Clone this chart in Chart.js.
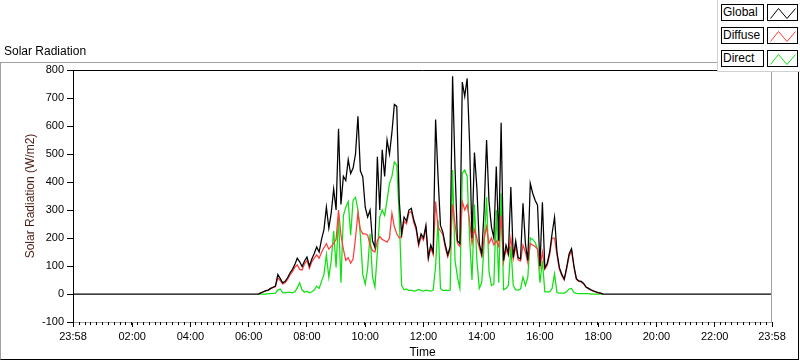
<!DOCTYPE html>
<html>
<head>
<meta charset="utf-8">
<script src="https://cdn.jsdelivr.net/npm/chart.js@4.4.0/dist/chart.umd.min.js"></script>
<style>
  html, body { margin: 0; padding: 0; background: #fff; }
  #wrap { position: relative; width: 800px; height: 361px; overflow: hidden; font-family: "Liberation Sans", Arial, sans-serif; }
  #frame { position: absolute; left: 0; top: 62px; width: 799px; height: 298px; border-top: 1px solid #a0a0a0; border-left: 1px solid #a0a0a0; border-bottom: 1px solid #000; border-right: 1px solid #000; box-sizing: border-box; }
  #chart { position: absolute; left: 0; top: 0; }
  #title { position: absolute; left: 4px; top: 44px; font-size: 12px; line-height: 14px; color: #000; }
  #legend { position: absolute; left: 717px; top: 0; width: 83px; height: 72px; background: #fff; border-left: 1px solid #d0d0d0; border-bottom: 1px solid #d0d0d0; box-sizing: border-box; }
  .item { position: absolute; left: 3px; height: 17px; }
  .name { position: absolute; left: 0; top: 0; width: 43px; height: 17px; border: 1px solid #000; box-sizing: border-box; font-size: 12px; line-height: 14px; padding-left: 1px; background: #fff; }
  .swatch { position: absolute; left: 46px; top: 0; width: 31px; height: 17px; border: 1px solid #000; box-sizing: border-box; background: #fff; }
  .swatch svg { position: absolute; left: 0; top: 0; }
</style>
</head>
<body>
<div id="wrap">
  <div id="frame"></div>
  <canvas id="chart" width="800" height="361"></canvas>
  <div id="title">Solar Radiation</div>
  <div id="legend"></div>
</div>
<script>
"use strict";

// minutes after midnight, axis runs 23:58 -> 23:58
const X_MIN = -2;
const X_MAX = 1438;
const MAJOR_TICKS = [-2, 120, 240, 360, 480, 600, 720, 840, 960, 1080, 1200, 1320, 1438];
const MINOR_STEP = 12;
const Y_TICKS = [-100, 0, 100, 200, 300, 400, 500, 600, 700, 800];

const seriesNames = ["Global", "Diffuse", "Direct"];
const seriesColors = ["#000000", "#ff3c3c", "#10e010"];

// daytime samples every 5 minutes from 06:20 to 18:10 (W/m2)
const startMinute = 380;
const stepMinutes = 5;

const globalDay = [
    0, 4, 8, 12, 14, 20, 24, 28, 70, 55, 40, 45, 58, 75, 88, 105, 128, 115, 98, 118,
    132, 100, 125, 145, 168, 150, 195, 230, 310, 235, 290, 375, 300, 590, 320, 420, 405, 480, 430, 450,
    500, 635, 440, 418, 310, 275, 300, 190, 166, 490, 300, 515, 420, 550, 500, 577, 677, 670, 335, 215,
    275, 260, 300, 306, 265, 238, 180, 215, 200, 245, 130, 175, 150, 623, 420, 245, 220, 175, 140, 170,
    778, 450, 190, 180, 757, 706, 770, 540, 200, 505, 380, 180, 143, 300, 550, 330, 240, 200, 455, 190,
    612, 120, 175, 145, 382, 130, 190, 130, 125, 324, 180, 120, 395, 360, 335, 317, 100, 328, 94, 110,
    150, 216, 274, 150, 94, 70, 53, 95, 143, 162, 100, 55, 47, 45, 38, 25, 20, 15, 11, 8,
    5, 3, 0
];

const diffuseDay = [
    0, 4, 7, 11, 13, 19, 23, 26, 58, 48, 36, 40, 52, 68, 80, 95, 104, 88, 86, 108,
    120, 92, 115, 128, 140, 128, 148, 165, 180, 160, 170, 180, 195, 300, 210, 160, 120, 130, 110, 125,
    200, 290, 230, 215, 215, 210, 175, 155, 150, 190, 205, 195, 190, 185, 200, 288, 240, 215, 200, 205,
    260, 250, 290, 295, 255, 228, 172, 205, 192, 235, 125, 165, 140, 330, 240, 225, 212, 165, 132, 160,
    320, 250, 180, 170, 330, 300, 320, 260, 180, 230, 200, 165, 135, 200, 240, 180, 200, 175, 190, 170,
    280, 115, 160, 138, 200, 125, 170, 122, 118, 175, 150, 112, 180, 175, 170, 160, 95, 150, 88, 103,
    140, 200, 200, 140, 88, 66, 50, 90, 135, 155, 95, 52, 45, 43, 36, 24, 19, 14, 10, 7,
    4, 2, 0
];

const directDay = [
    0, 0, 0, 0, 1, 1, 2, 3, 14, 18, 5, 4, 6, 6, 4, 8, 22, 40, 14, 6,
    10, 4, 8, 14, 28, 20, 45, 70, 140, 60, 120, 225, 95, 275, 40, 280, 310, 330, 210, 335,
    345, 300, 210, 70, 35, 90, 215, 60, 25, 150, 275, 300, 280, 335, 395, 420, 472, 460, 280, 30,
    15, 18, 12, 14, 10, 12, 16, 12, 10, 14, 12, 10, 14, 100, 263, 20, 12, 14, 12, 14,
    443, 120, 60, 20, 432, 443, 420, 200, 50, 320, 120, 20, 40, 180, 346, 80, 30, 35, 300, 40,
    360, 15, 20, 30, 170, 30, 15, 14, 18, 60, 30, 60, 200, 195, 185, 160, 40, 119, 8, 8,
    8, 20, 72, 5, 3, 3, 3, 8, 18, 20, 5, 2, 1, 1, 1, 1, 1, 0, 0, 0,
    0, 0, 0
];

const dayTimes = globalDay.map((v, i) => startMinute + i * stepMinutes);
const toPoints = values => values.map((v, i) => ({x: dayTimes[i], y: v}));

const globalPoints = [{x: X_MIN, y: 0}, ...toPoints(globalDay), {x: X_MAX, y: 0}];

function formatTime (m) {
    const t = ((m % 1440) + 1440) % 1440;
    const h = Math.floor(t / 60), mm = t % 60;
    return String(h).padStart(2, "0") + ":" + String(mm).padStart(2, "0");
}

const plotFrame = {
    id: "plotFrame",
    afterDraw (chart) {
        const {ctx, chartArea: a, scales: {x}} = chart;
        ctx.save();
        ctx.lineWidth = 1;
        ctx.strokeStyle = "#000";
        ctx.beginPath();
        ctx.moveTo(a.left, a.top + 0.5);
        ctx.lineTo(a.right, a.top + 0.5);
        ctx.stroke();
        ctx.strokeStyle = "#a0a0a0";
        ctx.beginPath();
        ctx.moveTo(a.right - 0.5, a.top);
        ctx.lineTo(a.right - 0.5, a.bottom);
        ctx.stroke();
        // short minor ticks
        ctx.strokeStyle = "#000";
        ctx.beginPath();
        for (let m = X_MIN; m <= X_MAX; m += MINOR_STEP) {
            const px = Math.round(x.getPixelForValue(m)) + 0.5;
            ctx.moveTo(px, a.bottom);
            ctx.lineTo(px, a.bottom + 3);
        }
        ctx.stroke();
        ctx.restore();
    }
};

Chart.defaults.font.family = "'Liberation Sans', Arial, sans-serif";
Chart.defaults.color = "#000";

new Chart(document.getElementById("chart"), {
    type: "line",
    data: {
        datasets: [
            {label: seriesNames[0], data: globalPoints, borderColor: seriesColors[0]},
            {label: seriesNames[1], data: toPoints(diffuseDay), borderColor: seriesColors[1]},
            {label: seriesNames[2], data: toPoints(directDay), borderColor: seriesColors[2]}
        ]
    },
    options: {
        responsive: false,
        animation: false,
        events: [],
        layout: {padding: {left: 0, top: 70, right: 28, bottom: 0}},
        elements: {
            line: {borderWidth: 1.25, tension: 0, fill: false},
            point: {radius: 0}
        },
        plugins: {legend: {display: false}, tooltip: {enabled: false}},
        scales: {
            x: {
                type: "linear",
                min: X_MIN,
                max: X_MAX,
                afterBuildTicks: scale => { scale.ticks = MAJOR_TICKS.map(v => ({value: v})); },
                afterFit: scale => { scale.height = 39; },
                ticks: {
                    callback: v => formatTime(v),
                    maxRotation: 0,
                    autoSkip: false,
                    padding: 3,
                    font: {size: 11}
                },
                grid: {drawOnChartArea: false, drawTicks: true, tickLength: 5, color: "#000"},
                border: {display: true, color: "#a0a0a0"},
                title: {display: true, text: "Time", font: {size: 12}, padding: {top: 0, bottom: 1}}
            },
            y: {
                min: -100,
                max: 800,
                afterBuildTicks: scale => { scale.ticks = Y_TICKS.map(v => ({value: v})); },
                afterFit: scale => { scale.width = 73; },
                ticks: {padding: 3, font: {size: 11}},
                grid: {drawOnChartArea: false, drawTicks: true, tickLength: 6, color: "#000"},
                border: {display: true, color: "#000"},
                title: {display: true, text: "Solar Radiation (W/m2)", color: "#4a1c14", font: {size: 12}, padding: {top: 23, bottom: 0}}
            }
        }
    },
    plugins: [plotFrame]
});

// legend boxes
const legend = document.getElementById("legend");
seriesNames.forEach((name, i) => {
    const item = document.createElement("div");
    item.className = "item";
    item.style.top = (4 + i * 23) + "px";
    item.innerHTML =
        '<div class="name">' + name + '</div>' +
        '<div class="swatch"><svg width="31" height="17"><polyline points="2.5,13.5 10.5,3.5 19,13.5 27.5,3.5" fill="none" stroke="' +
        seriesColors[i] + '" stroke-width="1"/></svg></div>';
    legend.appendChild(item);
});
</script>
</body>
</html>
